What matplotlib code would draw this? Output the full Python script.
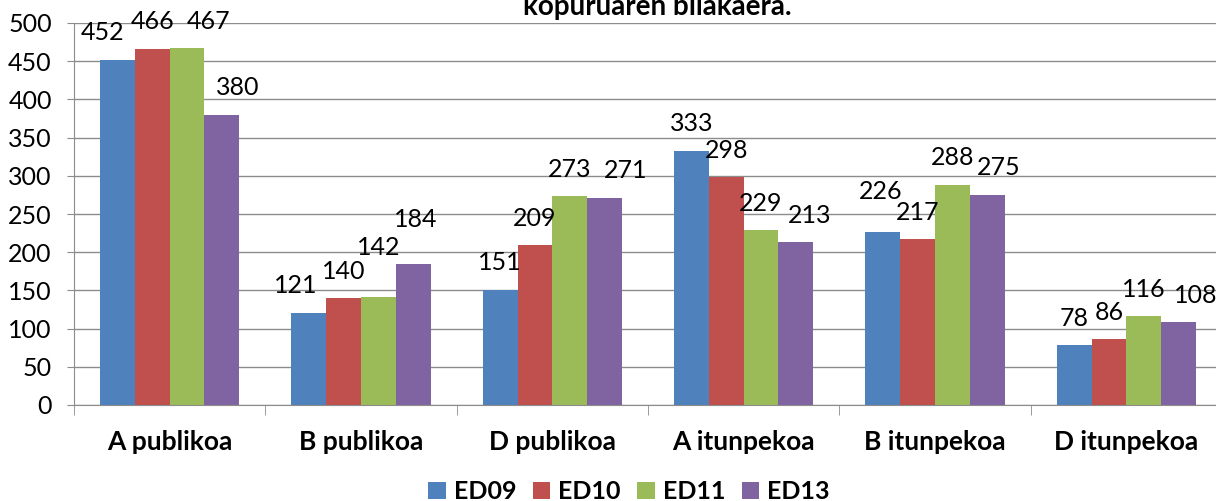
import numpy as np
import matplotlib
matplotlib.use("Agg")
import matplotlib.pyplot as plt
from matplotlib.patches import Patch

plt.rcParams['font.family'] = ['Lato', 'DejaVu Sans']

categories = ["A publikoa", "B publikoa", "D publikoa", "A itunpekoa", "B itunpekoa", "D itunpekoa"]
series = ["ED09", "ED10", "ED11", "ED13"]
ed09 = [452, 121, 151, 333, 226, 78]
ed10 = [466, 140, 209, 298, 217, 86]
ed11 = [467, 142, 273, 229, 288, 116]
ed13 = [380, 184, 271, 213, 275, 108]
values = [ed09, ed10, ed11, ed13]
colors = ["#4F81BD", "#C0504D", "#9BBB59", "#8064A2"]
title_line = "kopuruaren bilakaera."

# hand-moved data labels in the original (pixels: dx, extra lift)
nudge = {(0, 0): (-15, 0), (2, 0): (21, 0), (3, 0): (16, 0),
         (0, 1): (-13, 0), (2, 1): (0, 22), (3, 1): (3, 18),
         (3, 2): (21, 0), (3, 3): (14, 0),
         (0, 4): (-2, 14), (3, 4): (12, 0), (3, 5): (17, 0)}

grid_col = "#8C8C8C"

fig = plt.figure(figsize=(12.16, 5.01), dpi=100)
ax = fig.add_axes([74 / 1216, 96 / 501, 1148 / 1216, 382 / 501])

x = np.arange(len(categories))
w = 1 / 5.5
for i, vals in enumerate(values):
    pos = x - 1.5 * w + i * w
    ax.bar(pos, vals, width=w, color=colors[i], zorder=2)
    for j, v in enumerate(vals):
        dx, up = nudge.get((i, j), (0, 0))
        ax.annotate(str(v), xy=(pos[j], v), xytext=(dx, 27 + up),
                    textcoords="offset pixels", ha="center", va="center",
                    fontsize=18, color="black", zorder=3, annotation_clip=False)

ax.set_xlim(-0.5, 5.5)
ax.set_ylim(0, 500)
ax.set_yticks(np.arange(0, 501, 50))
ax.tick_params(axis="y", labelsize=18, length=5, color=grid_col, pad=11)
ax.set_xticks(x)
ax.set_xticklabels(categories, fontsize=19, fontweight="bold")
ax.tick_params(axis="x", length=0, pad=18)
ax.set_xticks(np.arange(-0.5, 5.6, 1), minor=True)
ax.tick_params(axis="x", which="minor", length=7, color=grid_col)

ax.yaxis.grid(True, color=grid_col, linewidth=1.0)
ax.set_axisbelow(True)
for s in ["top", "right"]:
    ax.spines[s].set_visible(False)
ax.spines["left"].set_color(grid_col)
ax.spines["bottom"].set_color(grid_col)

handles = [Patch(facecolor=c) for c in colors]
fig.legend(handles, series, loc="center", bbox_to_anchor=(629 / 1216, 9.5 / 501),
           ncol=4, frameon=False, prop={"weight": "bold", "size": 18},
           handlelength=0.7, handleheight=0.7, handletextpad=0.33,
           columnspacing=0.65, borderpad=0, borderaxespad=0)

fig.text(657 / 1216, (501 - 15) / 501, title_line, ha="center", va="baseline",
         fontsize=20, fontweight="bold")

fig.savefig("out.png", dpi=100)
